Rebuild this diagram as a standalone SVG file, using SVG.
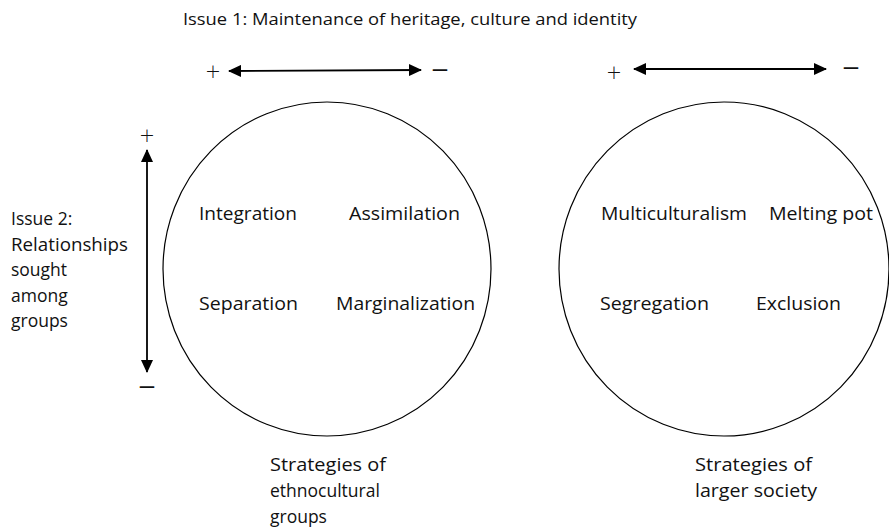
<svg xmlns="http://www.w3.org/2000/svg" width="889" height="531" viewBox="0 0 889 531">
<style>
text{font-family:"Open Sans","Liberation Sans",Arial,sans-serif;fill:#111;}
.t{font-size:16px;}
.l{font-size:17.5px;}
.p{font-family:"DejaVu Sans","Liberation Sans",Arial,sans-serif;font-size:19px;font-weight:300;}
.m{font-family:"Liberation Sans",Arial,sans-serif;font-size:26px;}
.circ{fill:none;stroke:#000;stroke-width:1.2;}
.ax{stroke:#000;stroke-width:1.8;fill:none;}
</style>
<defs>
<marker id="ah" viewBox="0 0 13 12" refX="12" refY="6" markerWidth="13" markerHeight="12" markerUnits="userSpaceOnUse" orient="auto-start-reverse">
<path d="M0,0 L13,6 L0,12 Z" fill="#000"/>
</marker>
</defs>
<rect width="889" height="531" fill="#fff"/>
<text class="t" x="183" y="25" textLength="454" lengthAdjust="spacingAndGlyphs">Issue 1: Maintenance of heritage, culture and identity</text>
<g id="connectors">
<line class="ax" x1="229" y1="71" x2="421" y2="70" marker-start="url(#ah)" marker-end="url(#ah)"/>
<line class="ax" x1="634" y1="69" x2="826" y2="69" marker-start="url(#ah)" marker-end="url(#ah)"/>
<line class="ax" x1="147" y1="150" x2="147" y2="372" marker-start="url(#ah)" marker-end="url(#ah)"/>
</g>
<g id="signs">
<text class="p" x="213" y="78" text-anchor="middle">+</text>
<text class="m" x="440" y="77" text-anchor="middle">–</text>
<text class="p" x="614" y="79" text-anchor="middle">+</text>
<text class="m" x="851" y="75" text-anchor="middle">–</text>
<text class="p" x="147" y="142" text-anchor="middle">+</text>
<text class="m" x="147" y="394" text-anchor="middle">–</text>
</g>
<g id="issue2">
<text class="l" x="11" y="225">Issue 2:</text>
<text class="l" x="11" y="250.5" textLength="117" lengthAdjust="spacingAndGlyphs">Relationships</text>
<text class="l" x="11" y="276">sought</text>
<text class="l" x="11" y="301.5">among</text>
<text class="l" x="11" y="327">groups</text>
</g>
<g id="ethno">
<ellipse class="circ" cx="327" cy="269" rx="164" ry="167"/>
<text class="l" x="199" y="220" textLength="98" lengthAdjust="spacingAndGlyphs">Integration</text>
<text class="l" x="349" y="220" textLength="111" lengthAdjust="spacingAndGlyphs">Assimilation</text>
<text class="l" x="199" y="310" textLength="99" lengthAdjust="spacingAndGlyphs">Separation</text>
<text class="l" x="336" y="310" textLength="139" lengthAdjust="spacingAndGlyphs">Marginalization</text>
<text class="l" x="270" y="471" textLength="116" lengthAdjust="spacingAndGlyphs">Strategies of</text>
<text class="l" x="270" y="497">ethnocultural</text>
<text class="l" x="270" y="523">groups</text>
</g>
<g id="society">
<ellipse class="circ" cx="724" cy="269" rx="165" ry="167"/>
<text class="l" x="601" y="220" textLength="146" lengthAdjust="spacingAndGlyphs">Multiculturalism</text>
<text class="l" x="769" y="220" textLength="104" lengthAdjust="spacingAndGlyphs">Melting pot</text>
<text class="l" x="600" y="310" textLength="109" lengthAdjust="spacingAndGlyphs">Segregation</text>
<text class="l" x="756" y="310" textLength="85" lengthAdjust="spacingAndGlyphs">Exclusion</text>
<text class="l" x="695" y="471" textLength="117" lengthAdjust="spacingAndGlyphs">Strategies of</text>
<text class="l" x="695" y="497" textLength="122" lengthAdjust="spacingAndGlyphs">larger society</text>
</g>
</svg>
